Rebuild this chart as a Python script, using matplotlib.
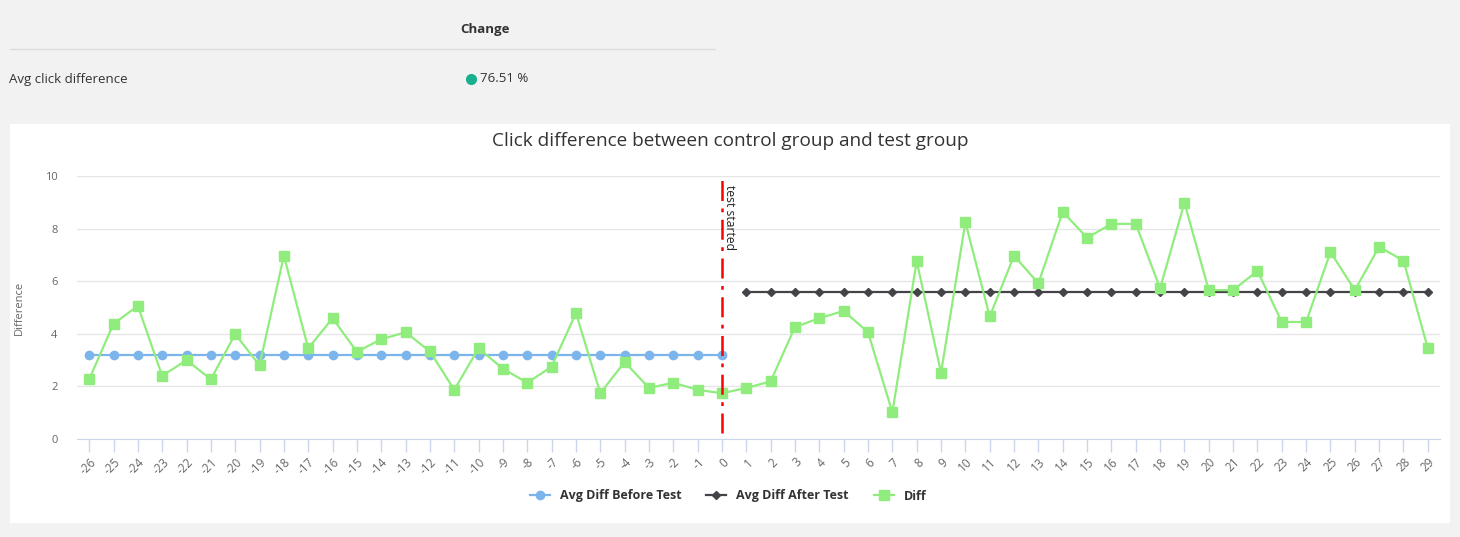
import matplotlib

matplotlib.use("Agg")
import matplotlib.pyplot as plt
from matplotlib.patches import Rectangle

plt.rcParams["font.family"] = ["Open Sans", "DejaVu Sans"]

days_before = list(range(-26, 1))
days_after = list(range(1, 30))
days = days_before + days_after

avg_before = 3.19
avg_after = 5.59
diff = [
    2.27, 4.38, 5.06, 2.40, 3.00, 2.27, 3.99, 2.80, 6.97, 3.45,
    4.59, 3.32, 3.79, 4.06, 3.33, 1.87, 3.45, 2.67, 2.14, 2.75,
    4.79, 1.74, 2.93, 1.94, 2.14, 1.87, 1.74,
    1.94, 2.19, 4.26, 4.59, 4.87, 4.06, 1.01, 6.76, 2.52, 8.24,
    4.66, 6.97, 5.92, 8.64, 7.65, 8.18, 8.18, 5.73, 8.98, 5.66,
    5.66, 6.39, 4.45, 4.45, 7.11, 5.66, 7.31, 6.78, 3.45,
]
change_label = "Avg click difference"
change_value = "76.51 %"

W, H = 1460, 537
fig = plt.figure(figsize=(W / 100, H / 100), dpi=100)
fig.patch.set_facecolor("#f2f2f2")

# white chart panel
fig.patches.append(Rectangle((10 / W, 1 - 523 / H), 1440 / W, 399 / H,
                             transform=fig.transFigure, facecolor="white",
                             edgecolor="none", zorder=-5))

# summary table above the chart
fig.text(485 / W, 1 - 29 / H, "Change", ha="center", va="center",
         fontsize=9.5, fontweight="bold", color="#333333")
fig.add_artist(plt.Line2D([10 / W, 715 / W], [1 - 49 / H, 1 - 49 / H],
                          transform=fig.transFigure, color="#dddddd", lw=1))
fig.text(9 / W, 1 - 79 / H, change_label, ha="left", va="center",
         fontsize=9.5, color="#333333")
fig.add_artist(plt.Line2D([471 / W], [1 - 79 / H], transform=fig.transFigure,
                          marker="o", markersize=7, color="#1aaf8e", lw=0))
fig.text(480 / W, 1 - 79 / H, change_value, ha="left", va="center",
         fontsize=9.5, color="#333333")

ax = fig.add_axes([77 / W, 1 - 439 / H, 1363 / W, 263 / H])
ax.set_facecolor("none")
ax.set_zorder(2)

ax.plot(days_before, [avg_before] * len(days_before), color="#7cb5ec", lw=1.6,
        marker="o", markersize=6, zorder=3, label="Avg Diff Before Test")
ax.plot(days_after, [avg_after] * len(days_after), color="#434348", lw=1.6,
        marker="D", markersize=4, zorder=3, label="Avg Diff After Test")
ax.plot(days, diff, color="#90ed7d", lw=1.6, marker="s", markersize=6.5,
        zorder=4, label="Diff")

ax.plot([0, 0], [0.22, 10], color="#ff0000", lw=1.8, dashes=(8, 3, 1.5, 3),
        zorder=5)
ax.text(0.05, 9.65, "test started", rotation=-90, ha="left", va="top",
        fontsize=8.7, color="#222222", zorder=6)

ax.set_xlim(-26.5, 29.5)
ax.set_ylim(0, 10)
ax.set_xticks(days)
ax.set_xticklabels([str(d) for d in days], rotation=45, ha="right",
                   rotation_mode="anchor", fontsize=8.5, color="#666666")
ax.set_yticks(range(0, 11, 2))
ax.tick_params(axis="y", length=0, pad=14, labelsize=8, labelcolor="#666666")
ax.tick_params(axis="x", length=9, width=1, color="#ccd6eb", pad=3)
ax.grid(axis="y", color="#e6e6e6", lw=1)
ax.set_axisbelow(True)
for side in ["top", "right", "left"]:
    ax.spines[side].set_visible(False)
ax.spines["bottom"].set_color("#ccd6eb")
ax.spines["bottom"].set_zorder(1)

ax.set_ylabel("Difference", fontsize=8, color="#666666", labelpad=14)
fig.text(730 / W, 1 - 141 / H, "Click difference between control group and test group",
         ha="center", va="center", fontsize=13.7, color="#333333")

leg = fig.legend(loc="center", bbox_to_anchor=(728 / W, 1 - 496 / H), ncol=3,
                 frameon=False, handlelength=1.6, columnspacing=2,
                 prop={"weight": "bold", "size": 9})
for t in leg.get_texts():
    t.set_color("#333333")

fig.savefig("out.png", dpi=100, facecolor=fig.get_facecolor())
